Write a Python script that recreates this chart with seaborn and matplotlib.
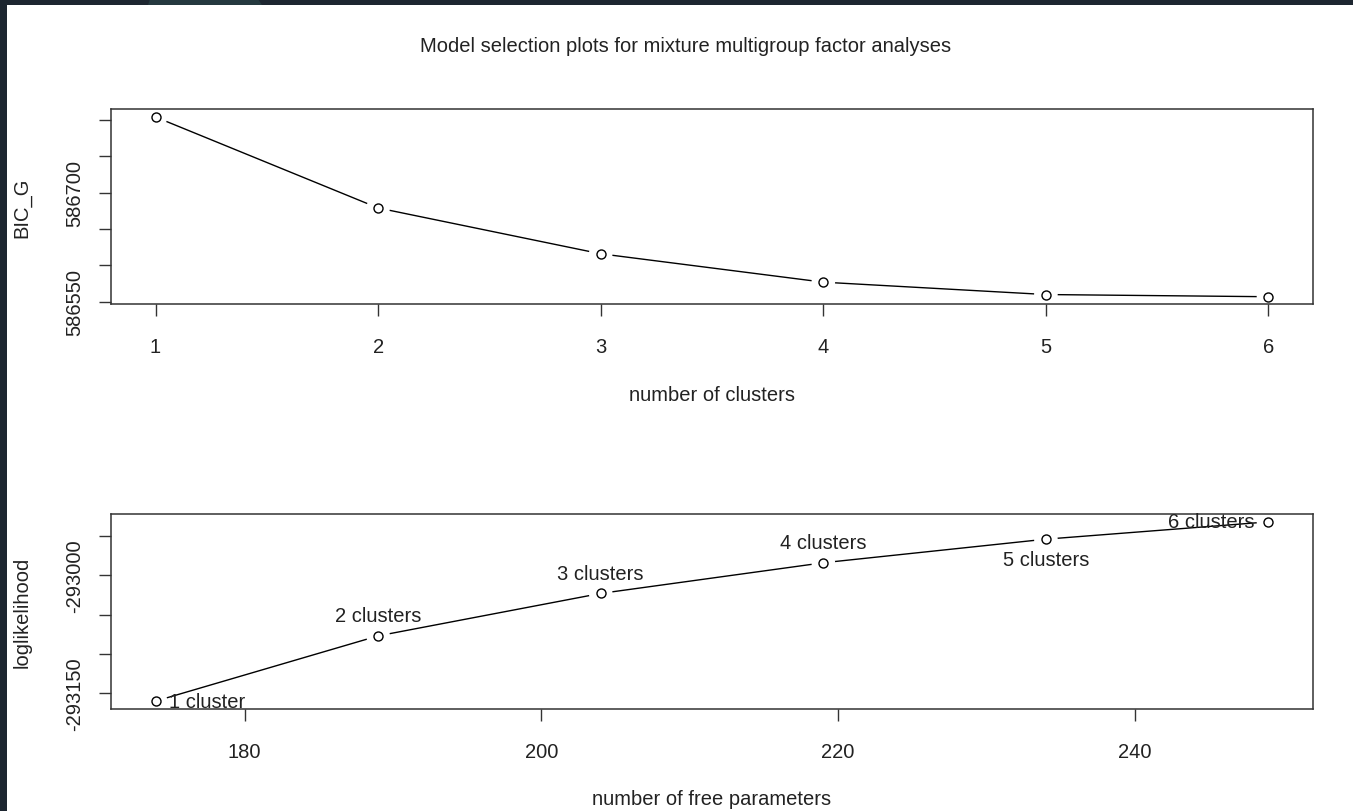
import matplotlib
matplotlib.use("Agg")
import matplotlib.pyplot as plt
import seaborn as sns
import pandas as pd
from matplotlib.patches import Rectangle, Polygon

# ---- data ----
n_clusters = [1, 2, 3, 4, 5, 6]
bic_g = [586804, 586679, 586616, 586577, 586560, 586557]
free_params = [174, 189, 204, 219, 234, 249]
loglik = [-293160, -293077, -293023, -292984, -292954, -292932]
cluster_labels = ["1 cluster", "2 clusters", "3 clusters", "4 clusters", "5 clusters", "6 clusters"]

top_yticks = [586550, 586600, 586650, 586700, 586750, 586800]
top_ytick_labels = ["586550", "", "", "586700", "", ""]
bot_yticks = [-293150, -293100, -293050, -293000, -292950]
bot_ytick_labels = ["-293150", "", "", "-293000", ""]
bot_xticks = [180, 200, 220, 240]

title = "Model selection plots for mixture multigroup factor analyses"

sns.set_style("white")
plt.rcParams["font.family"] = ["Liberation Sans", "DejaVu Sans"]
FS = 14.5

W, H = 1353, 812
fig = plt.figure(figsize=(W / 100, H / 100), dpi=100)
fig.patch.set_facecolor("white")

# dark frame of the screenshot
frame_col = "#1d2630"
fig.add_artist(Rectangle((0, 1 - 6 / H), 1, 6 / H, transform=fig.transFigure,
                         facecolor=frame_col, edgecolor="none", zorder=10))
fig.add_artist(Rectangle((0, 0), 7 / W, 1, transform=fig.transFigure,
                         facecolor=frame_col, edgecolor="none", zorder=10))
fig.add_artist(Polygon([(148 / W, 1 - 6 / H), (262 / W, 1 - 6 / H), (258 / W, 1.0), (150 / W, 1.0)],
                       closed=True, transform=fig.transFigure,
                       facecolor="#25393f", edgecolor="none", zorder=11))

left, width = 111 / W, 1202 / W
ax1 = fig.add_axes([left, 1 - 305 / H, width, 195 / H])
ax2 = fig.add_axes([left, 1 - 710 / H, width, 195 / H])

df1 = pd.DataFrame({"k": n_clusters, "bic": bic_g})
df2 = pd.DataFrame({"p": free_params, "ll": loglik, "lab": cluster_labels})


def draw(ax, data, x, y):
    sns.lineplot(data=data, x=x, y=y, ax=ax, color="black", lw=1.0, zorder=1)
    # white gaps around points (R type="b")
    sns.scatterplot(data=data, x=x, y=y, ax=ax, s=17 ** 2, color="white",
                    edgecolor="none", zorder=1.5)
    sns.scatterplot(data=data, x=x, y=y, ax=ax, s=6.5 ** 2, facecolor="white",
                    edgecolor="black", linewidth=1.0, zorder=3)


draw(ax1, df1, "k", "bic")
draw(ax2, df2, "p", "ll")

for ax in (ax1, ax2):
    for s in ax.spines.values():
        s.set_visible(True)
        s.set_color("#333333")
        s.set_linewidth(1.1)
    ax.tick_params(axis="both", which="major", direction="out", length=8.6, width=1.0,
                   color="#333333", labelsize=FS, labelcolor="#222222",
                   bottom=True, left=True, top=False, right=False)
    ax.tick_params(axis="x", pad=15.5)
    ax.tick_params(axis="y", pad=10.5, labelrotation=90)
    ax.set_facecolor("white")

ax1.set_xlim(0.8, 6.2)
ax1.set_ylim(586547, 586815)
ax1.set_xticks(n_clusters)
ax1.set_xticklabels([str(v) for v in n_clusters])
ax1.set_yticks(top_yticks)
ax1.set_yticklabels(top_ytick_labels)

ax2.set_xlim(171, 252)
ax2.set_ylim(-293170, -292922)
ax2.set_xticks(bot_xticks)
ax2.set_xticklabels([str(v) for v in bot_xticks])
ax2.set_yticks(bot_yticks)
ax2.set_yticklabels(bot_ytick_labels)

for ax in (ax1, ax2):
    for t in ax.get_yticklabels():
        t.set_va("center")

ax1.set_xlabel("number of clusters", fontsize=FS, color="#222222")
ax1.set_ylabel("BIC_G", fontsize=FS, color="#222222")
ax2.set_xlabel("number of free parameters", fontsize=FS, color="#222222")
ax2.set_ylabel("loglikelihood", fontsize=FS, color="#222222")
ax1.xaxis.set_label_coords(0.5, -(396 - 305) / 195)
ax2.xaxis.set_label_coords(0.5, -(800 - 710) / 195)
for ax in (ax1, ax2):
    ax.xaxis.label.set_va("center")
    ax.yaxis.label.set_va("center")
    ax.yaxis.set_label_coords((22 - 111) / 1202, 0.5)

# point labels (offsets in points)
offsets = [(9.5, 0, "left", "center"),
           (0, 14.5, "center", "center"),
           (0, 14.5, "center", "center"),
           (0, 14.5, "center", "center"),
           (0, -15, "center", "center"),
           (-10, 0, "right", "center")]
for (px, py, lab), (dx, dy, ha, va) in zip(zip(free_params, loglik, cluster_labels), offsets):
    ax2.annotate(lab, (px, py), xytext=(dx, dy), textcoords="offset points",
                 ha=ha, va=va, fontsize=FS, color="#222222", zorder=4)

fig.text(686 / W, 1 - 46 / H, title, ha="center", va="center", fontsize=FS, color="#222222")

fig.savefig("out.png", dpi=100, facecolor="white")
